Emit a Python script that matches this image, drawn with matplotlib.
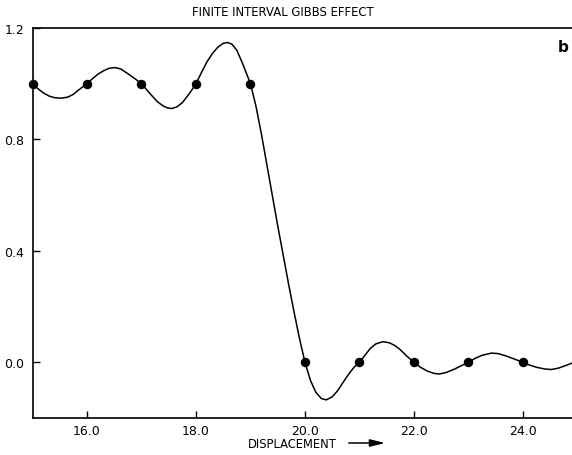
import matplotlib
matplotlib.use("Agg")
import matplotlib.pyplot as plt

# sample points (step data)
pt_x = [15, 16, 17, 18, 19, 20, 21, 22, 23, 24]
pt_y = [1.0, 1.0, 1.0, 1.0, 1.0, 0.0, 0.0, 0.0, 0.0, 0.0]

# interpolated (Gibbs) curve
curve_x = [15.0, 15.1, 15.2, 15.3, 15.4, 15.53, 15.65, 15.75, 15.85, 16.0,
           16.1, 16.2, 16.3, 16.4, 16.51, 16.62, 16.75, 16.88, 17.0,
           17.1, 17.2, 17.3, 17.4, 17.48, 17.56, 17.65, 17.75, 17.88, 18.0,
           18.1, 18.2, 18.3, 18.4, 18.5, 18.58, 18.66, 18.75, 18.85, 18.93, 19.0,
           19.1, 19.2, 19.3, 19.4, 19.5, 19.6, 19.7, 19.8, 19.9, 20.0,
           20.1, 20.2, 20.3, 20.39, 20.5, 20.6, 20.7, 20.8, 20.9, 21.0,
           21.1, 21.2, 21.3, 21.43, 21.55, 21.65, 21.75, 21.87, 22.0,
           22.12, 22.25, 22.37, 22.47, 22.6, 22.75, 22.87, 23.0,
           23.12, 23.25, 23.42, 23.55, 23.7, 23.85, 24.0,
           24.12, 24.25, 24.4, 24.52, 24.65, 24.78, 24.9]
curve_y = [1.0, 0.982, 0.967, 0.956, 0.950, 0.948, 0.952, 0.962, 0.978, 1.0,
           1.018, 1.034, 1.046, 1.055, 1.058, 1.053, 1.036, 1.018, 1.0,
           0.977, 0.955, 0.934, 0.920, 0.913, 0.911, 0.917, 0.932, 0.965, 1.0,
           1.040, 1.078, 1.108, 1.131, 1.145, 1.148, 1.142, 1.120, 1.075, 1.035, 1.0,
           0.92, 0.82, 0.71, 0.60, 0.49, 0.385, 0.28, 0.18, 0.085, 0.0,
           -0.065, -0.108, -0.130, -0.135, -0.124, -0.102, -0.072, -0.043, -0.018, 0.0,
           0.025, 0.050, 0.066, 0.074, 0.070, 0.060, 0.045, 0.022, 0.0,
           -0.018, -0.032, -0.040, -0.042, -0.036, -0.024, -0.012, 0.0,
           0.014, 0.025, 0.033, 0.031, 0.022, 0.011, 0.0,
           -0.010, -0.018, -0.024, -0.026, -0.021, -0.012, -0.003]

x_ticks = [16, 18, 20, 22, 24]
x_tick_labels = ["16.0", "18.0", "20.0", "22.0", "24.0"]
y_ticks = [0.0, 0.4, 0.8, 1.2]
y_tick_labels = ["0.0", "0.4", "0.8", "1.2"]

W, H = 572, 456
fig = plt.figure(figsize=(W / 100, H / 100), dpi=100)
ax = fig.add_axes([32.5 / W, 1 - 419 / H, 1 - 32.5 / W, (419 - 29) / H])

ax.plot(curve_x, curve_y, color="black", lw=1.1, solid_joinstyle="round",
        solid_capstyle="round")
ax.plot(pt_x, pt_y, "o", color="black", ms=5.8, clip_on=False)

ax.set_xlim(15, 24.9)
ax.set_ylim(-0.2, 1.2)
ax.set_xticks(x_ticks)
ax.set_xticklabels(x_tick_labels)
ax.set_yticks(y_ticks)
ax.set_yticklabels(y_tick_labels)
ax.tick_params(direction="in", length=5, width=1, labelsize=9)
ax.tick_params(axis="x", pad=4)
ax.tick_params(axis="y", pad=6)
ax.spines["right"].set_visible(False)
for s in ["left", "top", "bottom"]:
    ax.spines[s].set_linewidth(1.2)

fig.text(283 / W, 1 - 13 / H, "FINITE INTERVAL GIBBS EFFECT", ha="center",
         va="center", fontsize=8.4)
fig.text(563 / W, 1 - 47 / H, "b", ha="center", va="center", fontsize=11,
         fontweight="bold")
fig.text(292 / W, 1 - 445 / H, "DISPLACEMENT", ha="center", va="center",
         fontsize=8.3)
ax.annotate("", xy=(388 / W, 1 - 444 / H), xytext=(346 / W, 1 - 444 / H),
            xycoords="figure fraction", textcoords="figure fraction",
            arrowprops=dict(arrowstyle="-|>,head_length=0.9,head_width=0.22",
                            color="black", lw=1.1))

fig.savefig("out.png", dpi=100)
